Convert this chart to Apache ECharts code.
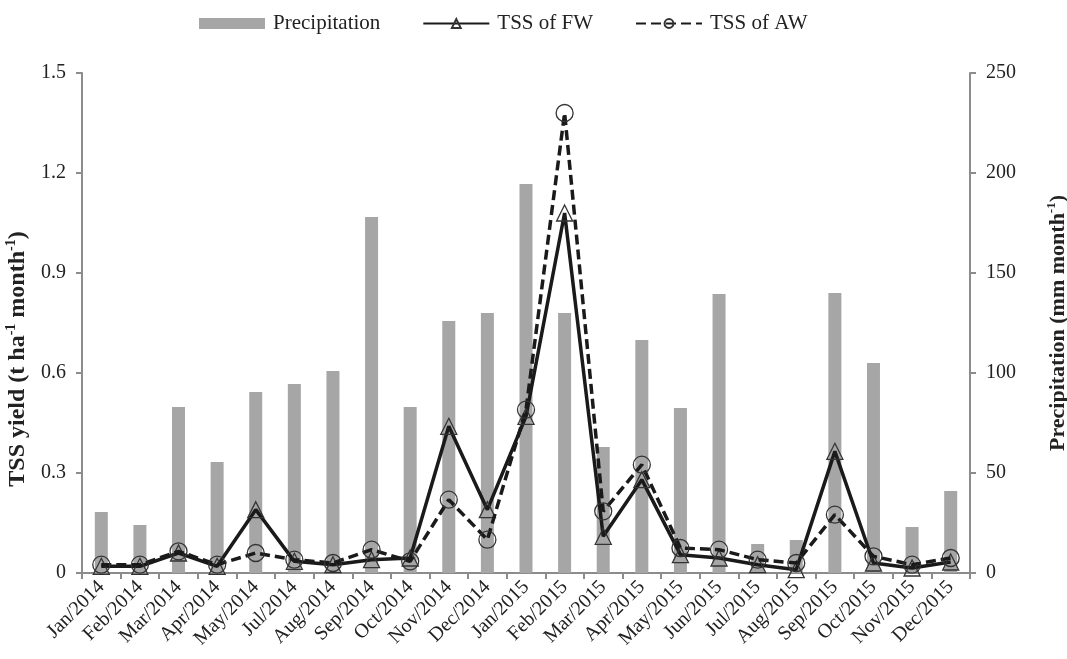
<!DOCTYPE html>
<html>
<head>
<meta charset="utf-8">
<script src="https://cdn.jsdelivr.net/npm/echarts@6/dist/echarts.min.js"></script>
<style>html,body{margin:0;padding:0;background:#fff;}#c{width:1067px;height:659px;}</style>
</head>
<body>
<div id="c"></div>
<script>
var categories = ['Jan/2014','Feb/2014','Mar/2014','Apr/2014','May/2014','Jul/2014','Aug/2014','Sep/2014','Oct/2014','Nov/2014','Dec/2014','Jan/2015','Feb/2015','Mar/2015','Apr/2015','May/2015','Jun/2015','Jul/2015','Aug/2015','Sep/2015','Oct/2015','Nov/2015','Dec/2015'];
var precipitation = [30.5,24,83,55.5,90.5,94.5,101,178,83,126,130,194.5,130,63,116.5,82.5,139.5,14.5,16.5,140,105,23,41];
var tssFW = [0.02,0.02,0.06,0.02,0.19,0.035,0.025,0.04,0.045,0.44,0.19,0.47,1.08,0.11,0.28,0.055,0.045,0.025,0.01,0.365,0.03,0.015,0.033];
var tssAW = [0.025,0.025,0.065,0.025,0.06,0.04,0.03,0.07,0.035,0.22,0.10,0.49,1.38,0.185,0.325,0.075,0.07,0.04,0.03,0.175,0.05,0.025,0.045];
var leftTicks = {min:0, max:1.5, interval:0.3};
var rightTicks = {min:0, max:250, interval:50};

var serif = '"Liberation Serif", "DejaVu Serif", serif';
function nameRich(size) {
  return {
    b: {fontFamily: serif, fontSize: size, fontWeight: 'bold', color: '#222', lineHeight: size + 4},
    s: {fontFamily: serif, fontSize: Math.round(size * 0.6), fontWeight: 'bold', color: '#222', verticalAlign: 'top', lineHeight: size + 4}
  };
}
var chart = echarts.init(document.getElementById('c'));
chart.setOption({
  animation: false,
  backgroundColor: '#fff',
  textStyle: {fontFamily: serif},
  legend: {
    top: 8, left: 194,
    itemGap: 42, itemWidth: 66, itemHeight: 11,
    textStyle: {fontFamily: serif, fontSize: 21, color: '#222', padding: [0, 0, 0, 3]},
    data: [
      {name: 'Precipitation', icon: 'rect'},
      {name: 'TSS of FW'},
      {name: 'TSS of AW'}
    ]
  },
  grid: {left: 82, right: 97, top: 73, bottom: 86, containLabel: false, outerBoundsMode: 'none'},
  xAxis: {
    type: 'category', data: categories, boundaryGap: true,
    axisLine: {lineStyle: {color: '#8c8c8c', width: 2}},
    axisTick: {show: true, alignWithLabel: false, length: 6, lineStyle: {color: '#8c8c8c', width: 2}},
    axisLabel: {rotate: 45, interval: 0, fontFamily: serif, fontSize: 20, color: '#222', margin: 11}
  },
  yAxis: [
    {
      type: 'value', min: leftTicks.min, max: leftTicks.max, interval: leftTicks.interval,
      position: 'left',
      name: '{b|TSS yield (t ha}{s|-1}{b| month}{s|-1}{b|)}',
      nameLocation: 'middle', nameRotate: 90, nameGap: 44,
      nameTextStyle: {rich: nameRich(24), padding: [0, 72, 0, 0]},
      splitLine: {show: false},
      axisLine: {show: true, lineStyle: {color: '#8c8c8c', width: 2}},
      axisTick: {show: true, length: 6, lineStyle: {color: '#8c8c8c', width: 2}},
      axisLabel: {fontFamily: serif, fontSize: 20, color: '#222', margin: 16,
        formatter: function(v){ return v === 0 ? '0' : v.toFixed(1); }}
    },
    {
      type: 'value', min: rightTicks.min, max: rightTicks.max, interval: rightTicks.interval,
      position: 'right',
      name: '{b|Precipitation (mm month}{s|-1}{b|)}',
      nameLocation: 'middle', nameRotate: 90, nameGap: 75,
      nameTextStyle: {rich: nameRich(22)},
      splitLine: {show: false},
      axisLine: {show: true, lineStyle: {color: '#8c8c8c', width: 2}},
      axisTick: {show: true, length: 6, lineStyle: {color: '#8c8c8c', width: 2}},
      axisLabel: {fontFamily: serif, fontSize: 20, color: '#222', margin: 16}
    }
  ],
  series: [
    {
      name: 'Precipitation', type: 'bar', yAxisIndex: 1, data: precipitation,
      barWidth: 13, itemStyle: {color: '#a6a6a6'}, z: 1
    },
    {
      name: 'TSS of FW', type: 'line', yAxisIndex: 0, data: tssFW,
      symbol: 'triangle', symbolSize: 16, showAllSymbol: true,
      lineStyle: {color: '#1a1a1a', width: 3.5, type: 'solid'},
      itemStyle: {color: 'rgba(255,255,255,0)', borderColor: '#333', borderWidth: 1.3},
      z: 3
    },
    {
      name: 'TSS of AW', type: 'line', yAxisIndex: 0, data: tssAW,
      symbol: 'circle', symbolSize: 17, showAllSymbol: true,
      lineStyle: {color: '#1a1a1a', width: 3.5, type: [10, 5]},
      itemStyle: {color: 'rgba(255,255,255,0)', borderColor: '#333', borderWidth: 1.3},
      z: 4
    }
  ]
});
</script>
</body>
</html>
